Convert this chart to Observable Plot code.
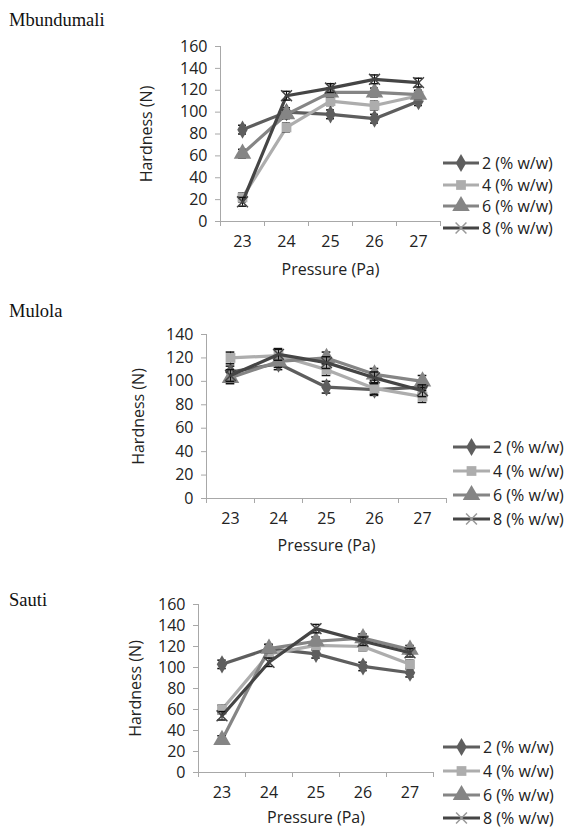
<!DOCTYPE html>
<html>
<head>
<meta charset="utf-8">
<script src="https://cdn.jsdelivr.net/npm/d3@7"></script>
<script src="https://cdn.jsdelivr.net/npm/@observablehq/plot@0.6"></script>
<style>
  html, body { margin: 0; padding: 0; background: #fff; }
  #wrap { position: relative; width: 571px; height: 829px; overflow: hidden; }
  .panel { position: absolute; left: 0; }
  #overlay { position: absolute; left: 0; top: 0; pointer-events: none; }
</style>
</head>
<body>
<div id="wrap"></div>
<script>
// ---------- data ----------
const pressure = [23, 24, 25, 26, 27];
const categoryBounds = [22.5, 23.5, 24.5, 25.5, 26.5, 27.5];
const seriesNames = ["2 (% w/w)", "4 (% w/w)", "6 (% w/w)", "8 (% w/w)"];
const seriesColors = ["#5e5e5e", "#adadad", "#858585", "#454545"];
const seriesSymbols = ["diamond", "square", "triangle", "times"];

const panelTitles = ["Mbundumali", "Mulola", "Sauti"];

// Mbundumali
const mbundumali2 = [84, 100, 98, 94, 110];
const mbundumali4 = [22, 86, 110, 106, 115];
const mbundumali6 = [62, 98, 118, 118, 116];
const mbundumali8 = [18, 115, 122, 130, 127];
const mbundumaliErr = [4, 4, 4, 4, 4];
const mbundumaliTicks = [0, 20, 40, 60, 80, 100, 120, 140, 160];

// Mulola
const mulola2 = [108, 115, 95, 93, 95];
const mulola4 = [120, 122, 110, 94, 87];
const mulola6 = [103, 117, 120, 106, 100];
const mulola8 = [105, 123, 116, 103, 92];
const mulolaErr = [5, 5, 5, 5, 5];
const mulolaTicks = [0, 20, 40, 60, 80, 100, 120, 140];

// Sauti
const sauti2 = [103, 118, 113, 101, 95];
const sauti4 = [60, 113, 121, 120, 103];
const sauti6 = [31, 118, 125, 128, 117];
const sauti8 = [54, 105, 137, 125, 114];
const sautiErr = [4, 4, 4, 4, 4];
const sautiTicks = [0, 20, 40, 60, 80, 100, 120, 140, 160];

// ---------- layout ----------
const W = 571, H = 829;
const panels = [
  { title: panelTitles[0], series: [mbundumali2, mbundumali4, mbundumali6, mbundumali8], err: mbundumaliErr, ticks: mbundumaliTicks,
    top: 30, height: 251, marginLeft: 220, marginRight: 131, marginBottom: 60, ylabDx: -74, xlabDy: 48, xtickPad: 14,
    titleY: 26, legend: { x1: 443, x2: 479, tx: 482, ys: [163, 185, 206, 228] } },
  { title: panelTitles[1], series: [mulola2, mulola4, mulola6, mulola8], err: mulolaErr, ticks: mulolaTicks,
    top: 318, height: 240, marginLeft: 206, marginRight: 125, marginBottom: 60, ylabDx: -68, xlabDy: 47, xtickPad: 14,
    titleY: 317, legend: { x1: 453, x2: 490, tx: 493, ys: [447, 471, 495, 519] } },
  { title: panelTitles[2], series: [sauti2, sauti4, sauti6, sauti8], err: sautiErr, ticks: sautiTicks,
    top: 588, height: 241, marginLeft: 198, marginRight: 138, marginBottom: 57, ylabDx: -63, xlabDy: 45, xtickPad: 14,
    titleY: 606, legend: { x1: 443, x2: 480, tx: 483, ys: [747, 771, 795, 818] } }
];

const wrap = document.getElementById("wrap");
const FONT = "'Open Sans', sans-serif";

const symbolR = { diamond: 5.5, square: 5.5, triangle: 6.5, times: 5 };

panels.forEach(p => {
  const ymax = p.ticks[p.ticks.length - 1];
  const rows = [];
  p.series.forEach((vals, si) => {
    vals.forEach((v, i) => rows.push({ x: pressure[i], y: v, e: p.err[i], s: seriesNames[si] }));
  });
  const marks = [
    Plot.ruleX([categoryBounds[0]], { stroke: "#a8a8a8", strokeWidth: 1 }),
    Plot.ruleY([0], { stroke: "#a8a8a8", strokeWidth: 1 }),
    Plot.axisY({ ticks: p.ticks, tickSize: 5, tickPadding: 8, label: null, stroke: "#a8a8a8", fill: "#222", tickFormat: d => String(d) }),
    Plot.axisX({ ticks: categoryBounds, tickSize: 5, label: null, stroke: "#a8a8a8", tickFormat: () => "" }),
    Plot.axisX({ ticks: pressure, tickSize: 0, tickPadding: p.xtickPad, label: null, fill: "#222", tickFormat: d => String(d) }),
    Plot.text(["Hardness (N)"], { frameAnchor: "left", textAnchor: "middle", lineAnchor: "middle", rotate: -90, dx: p.ylabDx, fill: "#222", fontSize: 16 }),
    Plot.text(["Pressure (Pa)"], { frameAnchor: "bottom", textAnchor: "middle", lineAnchor: "middle", dy: p.xlabDy, fill: "#222", fontSize: 16 })
  ];
  seriesNames.forEach((name, si) => {
    const d = rows.filter(r => r.s === name);
    const col = seriesColors[si];
    const sym = seriesSymbols[si];
    marks.push(Plot.line(d, { x: "x", y: "y", stroke: col, strokeWidth: 3.2, curve: "linear" }));
    marks.push(Plot.ruleX(d, { x: "x", y1: r => r.y - r.e, y2: r => r.y + r.e, stroke: "#111", strokeWidth: 1 }));
    marks.push(Plot.ruleY(d, { y: r => r.y - r.e, x1: r => r.x - 0.09, x2: r => r.x + 0.09, stroke: "#111", strokeWidth: 1.5 }));
    marks.push(Plot.ruleY(d, { y: r => r.y + r.e, x1: r => r.x - 0.09, x2: r => r.x + 0.09, stroke: "#111", strokeWidth: 1.5 }));
    if (sym === "times") {
      marks.push(Plot.dot(d, { x: "x", y: "y", symbol: sym, r: symbolR[sym], stroke: col, strokeWidth: 1.5, fill: "none" }));
    } else {
      marks.push(Plot.dot(d, { x: "x", y: "y", symbol: sym, r: symbolR[sym], fill: col, stroke: "none" }));
    }
  });
  const chart = Plot.plot({
    width: W,
    height: p.height,
    marginLeft: p.marginLeft,
    marginRight: p.marginRight,
    marginTop: 16,
    marginBottom: p.marginBottom,
    x: { type: "linear", domain: [categoryBounds[0], categoryBounds[categoryBounds.length - 1]] },
    y: { type: "linear", domain: [0, ymax] },
    style: { fontFamily: FONT, fontSize: "16px", background: "transparent", overflow: "visible", color: "#222" },
    marks
  });
  const div = document.createElement("div");
  div.className = "panel";
  div.style.top = p.top + "px";
  div.appendChild(chart);
  wrap.appendChild(div);
});

// ---------- titles + legends overlay ----------
const svg = d3.select(wrap).append("svg")
  .attr("id", "overlay").attr("width", W).attr("height", H);

panels.forEach(p => {
  svg.append("text").attr("x", 9).attr("y", p.titleY)
    .attr("font-family", "'Liberation Serif', 'Times New Roman', serif")
    .attr("font-size", 18.5).attr("fill", "#111").text(p.title);
  const L = p.legend;
  seriesNames.forEach((name, si) => {
    const y = L.ys[si];
    const g = svg.append("g");
    g.append("line").attr("x1", L.x1).attr("x2", L.x2).attr("y1", y).attr("y2", y)
      .attr("stroke", seriesColors[si]).attr("stroke-width", 3.2);
    const cx = (L.x1 + L.x2) / 2;
    const symMap = { diamond: d3.symbolDiamond, square: d3.symbolSquare, triangle: d3.symbolTriangle, times: d3.symbolTimes };
    const r = symbolR[seriesSymbols[si]];
    const path = d3.symbol(symMap[seriesSymbols[si]], r * r * Math.PI)();
    const sp = g.append("path").attr("d", path).attr("transform", `translate(${cx},${y})`);
    if (seriesSymbols[si] === "times") sp.attr("fill", "none").attr("stroke", "#999").attr("stroke-width", 1.5);
    else sp.attr("fill", seriesColors[si]);
    g.append("text").attr("x", L.tx).attr("y", y).attr("dy", "0.36em")
      .attr("font-family", FONT).attr("font-size", 16).attr("fill", "#222").text(name);
  });
});
</script>
</body>
</html>
